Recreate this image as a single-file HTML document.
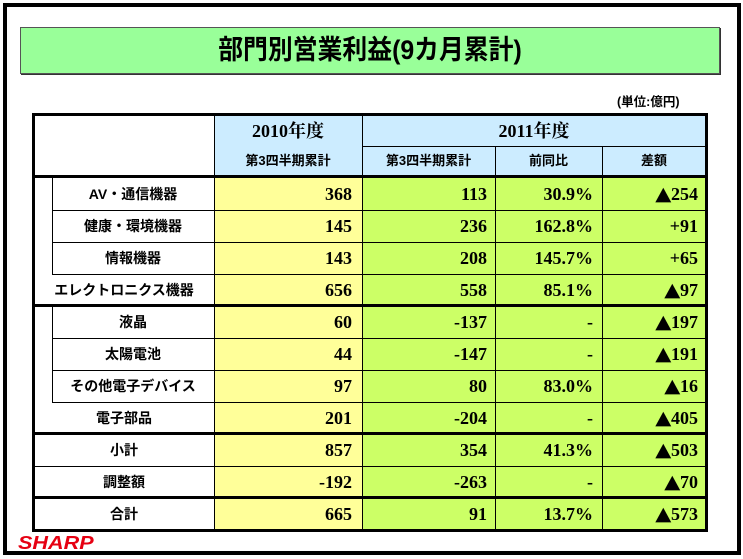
<!DOCTYPE html>
<html><head><meta charset="utf-8"><style>
*{margin:0;padding:0;box-sizing:border-box}
body{width:743px;height:559px;background:#fff;position:relative;overflow:hidden;font-family:"Liberation Sans","Noto Sans CJK JP",sans-serif}
.a{position:absolute}
.l{position:absolute;background:#000}
.t{position:absolute;height:32px;line-height:32px;font-weight:bold;white-space:nowrap}
.lab{font-size:14px;text-align:center;font-family:"Liberation Sans","Noto Sans CJK JP",sans-serif}
.n{font-family:"Liberation Serif","Noto Serif CJK SC",serif;font-size:18px;text-align:right}
.n b{font-family:"DejaVu Sans",sans-serif;font-size:19px;font-weight:normal;display:inline-block;transform:scaleX(1.1)}
</style></head><body>
<div class="a" style="left:3px;top:3px;width:738px;height:552px;border:4px solid #000"></div>
<div class="a" style="left:20px;top:27px;width:700px;height:47px;background:#99FF99;border:1px solid #555;box-shadow:1px 1px 0 #333"></div>
<div class="a" style="left:20px;top:27px;width:700px;height:47px;line-height:47px;text-align:center;font-size:27px;font-weight:bold;font-family:'Liberation Sans Narrow','Liberation Sans','Noto Sans CJK JP',sans-serif;transform:scaleX(0.92)">部門別営業利益(9カ月累計)</div>
<div class="a" style="left:617px;top:91px;font-size:12.5px;font-weight:bold">(単位:億円)</div>

<div class="a" style="left:214px;top:115px;width:492px;height:62px;background:#CCECFF"></div>
<div class="a" style="left:214px;top:177px;width:148px;height:353px;background:#FFFF99"></div>
<div class="a" style="left:362px;top:177px;width:344px;height:353px;background:#CCFF66"></div>

<div class="a" style="left:32px;top:113px;width:676px;height:419px;border:3px solid #000"></div>
<div class="l" style="left:34px;top:175px;width:672px;height:3px"></div>
<div class="l" style="left:34px;top:304px;width:672px;height:3px"></div>
<div class="l" style="left:34px;top:432px;width:672px;height:3px"></div>
<div class="l" style="left:34px;top:496px;width:672px;height:3px"></div>
<div class="l" style="left:362px;top:146px;width:344px;height:1px"></div>
<div class="l" style="left:52px;top:210px;width:654px;height:1px"></div>
<div class="l" style="left:52px;top:242px;width:654px;height:1px"></div>
<div class="l" style="left:52px;top:274px;width:654px;height:1px"></div>
<div class="l" style="left:52px;top:338px;width:654px;height:1px"></div>
<div class="l" style="left:52px;top:370px;width:654px;height:1px"></div>
<div class="l" style="left:52px;top:402px;width:654px;height:1px"></div>
<div class="l" style="left:34px;top:466px;width:672px;height:1px"></div>
<div class="l" style="left:52px;top:178px;width:1px;height:96px"></div>
<div class="l" style="left:52px;top:306px;width:1px;height:96px"></div>
<div class="l" style="left:214px;top:115px;width:1px;height:415px"></div>
<div class="l" style="left:362px;top:115px;width:1px;height:415px"></div>
<div class="l" style="left:495px;top:147px;width:1px;height:383px"></div>
<div class="l" style="left:602px;top:147px;width:1px;height:383px"></div>

<div class="t" style="left:214px;top:115px;width:148px;text-align:center;font-size:18px;font-family:'Liberation Serif','Noto Serif CJK SC',serif">2010年度</div>
<div class="t" style="left:362px;top:115px;width:344px;text-align:center;font-size:18px;font-family:'Liberation Serif','Noto Serif CJK SC',serif">2011年度</div>
<div class="t" style="left:214px;top:146px;width:148px;height:30px;line-height:30px;text-align:center;font-size:13px">第3四半期累計</div>
<div class="t" style="left:362px;top:146px;width:133px;height:30px;line-height:30px;text-align:center;font-size:13px">第3四半期累計</div>
<div class="t" style="left:495px;top:146px;width:107px;height:30px;line-height:30px;text-align:center;font-size:13px">前同比</div>
<div class="t" style="left:602px;top:146px;width:104px;height:30px;line-height:30px;text-align:center;font-size:13px">差額</div>

<div class="t lab" style="left:52px;top:178px;width:162px">AV・通信機器</div>
<div class="t lab" style="left:52px;top:210px;width:162px">健康・環境機器</div>
<div class="t lab" style="left:52px;top:242px;width:162px">情報機器</div>
<div class="t lab" style="left:34px;top:274px;width:180px">エレクトロニクス機器</div>
<div class="t lab" style="left:52px;top:306px;width:162px">液晶</div>
<div class="t lab" style="left:52px;top:338px;width:162px">太陽電池</div>
<div class="t lab" style="left:52px;top:370px;width:162px">その他電子デバイス</div>
<div class="t lab" style="left:34px;top:402px;width:180px">電子部品</div>
<div class="t lab" style="left:34px;top:434px;width:180px">小計</div>
<div class="t lab" style="left:34px;top:466px;width:180px">調整額</div>
<div class="t lab" style="left:34px;top:498px;width:180px">合計</div>

<div class="t n" style="left:214px;top:178px;width:138px">368</div>
<div class="t n" style="left:214px;top:210px;width:138px">145</div>
<div class="t n" style="left:214px;top:242px;width:138px">143</div>
<div class="t n" style="left:214px;top:274px;width:138px">656</div>
<div class="t n" style="left:214px;top:306px;width:138px">60</div>
<div class="t n" style="left:214px;top:338px;width:138px">44</div>
<div class="t n" style="left:214px;top:370px;width:138px">97</div>
<div class="t n" style="left:214px;top:402px;width:138px">201</div>
<div class="t n" style="left:214px;top:434px;width:138px">857</div>
<div class="t n" style="left:214px;top:466px;width:138px">-192</div>
<div class="t n" style="left:214px;top:498px;width:138px">665</div>

<div class="t n" style="left:362px;top:178px;width:125px">113</div>
<div class="t n" style="left:362px;top:210px;width:125px">236</div>
<div class="t n" style="left:362px;top:242px;width:125px">208</div>
<div class="t n" style="left:362px;top:274px;width:125px">558</div>
<div class="t n" style="left:362px;top:306px;width:125px">-137</div>
<div class="t n" style="left:362px;top:338px;width:125px">-147</div>
<div class="t n" style="left:362px;top:370px;width:125px">80</div>
<div class="t n" style="left:362px;top:402px;width:125px">-204</div>
<div class="t n" style="left:362px;top:434px;width:125px">354</div>
<div class="t n" style="left:362px;top:466px;width:125px">-263</div>
<div class="t n" style="left:362px;top:498px;width:125px">91</div>

<div class="t n" style="left:495px;top:178px;width:98px">30.9%</div>
<div class="t n" style="left:495px;top:210px;width:98px">162.8%</div>
<div class="t n" style="left:495px;top:242px;width:98px">145.7%</div>
<div class="t n" style="left:495px;top:274px;width:98px">85.1%</div>
<div class="t n" style="left:495px;top:306px;width:98px">-</div>
<div class="t n" style="left:495px;top:338px;width:98px">-</div>
<div class="t n" style="left:495px;top:370px;width:98px">83.0%</div>
<div class="t n" style="left:495px;top:402px;width:98px">-</div>
<div class="t n" style="left:495px;top:434px;width:98px">41.3%</div>
<div class="t n" style="left:495px;top:466px;width:98px">-</div>
<div class="t n" style="left:495px;top:498px;width:98px">13.7%</div>

<div class="t n" style="left:602px;top:178px;width:96px"><b>▲</b>254</div>
<div class="t n" style="left:602px;top:210px;width:96px">+91</div>
<div class="t n" style="left:602px;top:242px;width:96px">+65</div>
<div class="t n" style="left:602px;top:274px;width:96px"><b>▲</b>97</div>
<div class="t n" style="left:602px;top:306px;width:96px"><b>▲</b>197</div>
<div class="t n" style="left:602px;top:338px;width:96px"><b>▲</b>191</div>
<div class="t n" style="left:602px;top:370px;width:96px"><b>▲</b>16</div>
<div class="t n" style="left:602px;top:402px;width:96px"><b>▲</b>405</div>
<div class="t n" style="left:602px;top:434px;width:96px"><b>▲</b>503</div>
<div class="t n" style="left:602px;top:466px;width:96px"><b>▲</b>70</div>
<div class="t n" style="left:602px;top:498px;width:96px"><b>▲</b>573</div>

<div class="a" style="left:18px;top:533px;font-size:18px;font-weight:900;font-style:italic;color:#E60012;line-height:20px;transform:scaleX(1.2);transform-origin:left">SHARP</div>
</body></html>
